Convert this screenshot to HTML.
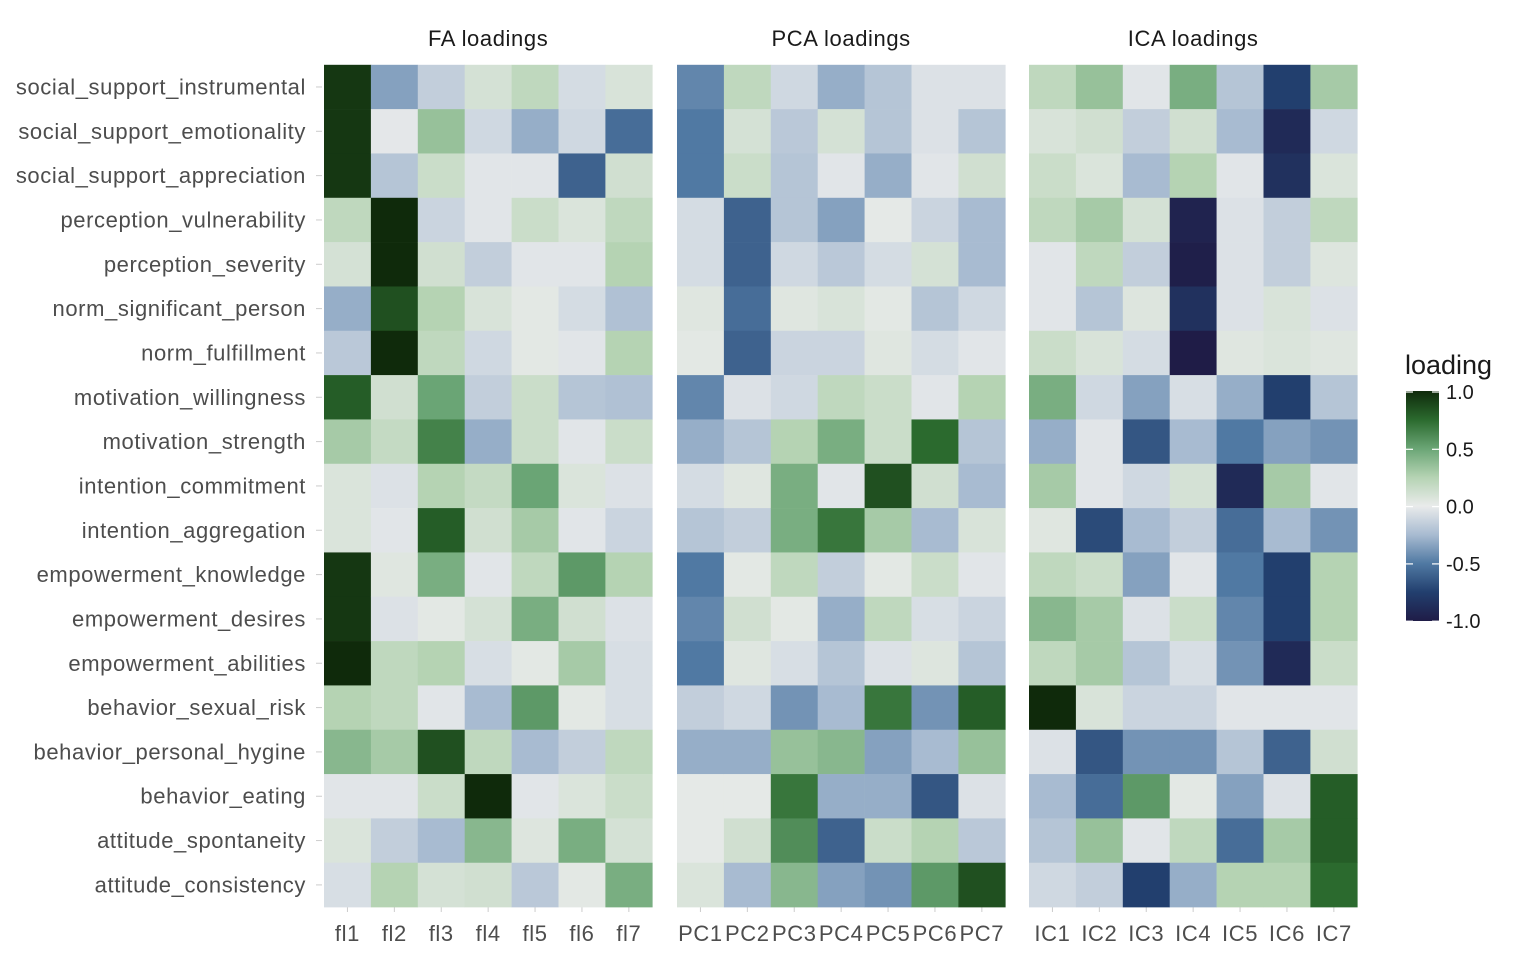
<!DOCTYPE html>
<html><head><meta charset="utf-8"><style>
body{margin:0;background:#fff;}
svg text{font-family:"Liberation Sans",sans-serif;}
</style></head><body>
<svg id="s" width="1536" height="960" xmlns="http://www.w3.org/2000/svg"></svg>
<script>
(function(){
const rows=["social_support_instrumental","social_support_emotionality","social_support_appreciation","perception_vulnerability","perception_severity","norm_significant_person","norm_fulfillment","motivation_willingness","motivation_strength","intention_commitment","intention_aggregation","empowerment_knowledge","empowerment_desires","empowerment_abilities","behavior_sexual_risk","behavior_personal_hygine","behavior_eating","attitude_spontaneity","attitude_consistency"];
const V=[
[[0.95,-0.35,-0.15,0.1,0.2,-0.08,0.08],[-0.45,0.2,-0.1,-0.3,-0.2,-0.05,-0.05],[0.2,0.35,-0.03,0.45,-0.2,-0.75,0.3]],
[[0.95,-0.02,0.35,-0.1,-0.3,-0.1,-0.55],[-0.5,0.1,-0.18,0.1,-0.2,-0.05,-0.2],[0.08,0.12,-0.15,0.12,-0.25,-0.9,-0.1]],
[[0.95,-0.2,0.15,-0.03,-0.03,-0.6,0.12],[-0.5,0.15,-0.2,-0.03,-0.3,-0.03,0.12],[0.15,0.07,-0.25,0.25,-0.03,-0.85,0.07]],
[[0.2,1.0,-0.12,-0.03,0.15,0.07,0.2],[-0.08,-0.6,-0.2,-0.35,0.02,-0.12,-0.25],[0.2,0.3,0.1,-0.95,-0.05,-0.15,0.2]],
[[0.1,1.0,0.12,-0.15,-0.03,-0.03,0.25],[-0.08,-0.6,-0.1,-0.18,-0.08,0.1,-0.25],[-0.03,0.2,-0.15,-0.98,-0.05,-0.15,0.06]],
[[-0.3,0.85,0.25,0.08,0.03,-0.08,-0.22],[0.05,-0.55,0.05,0.08,0.03,-0.2,-0.1],[-0.03,-0.2,0.06,-0.85,-0.05,0.08,-0.05]],
[[-0.18,1.0,0.2,-0.1,0.03,-0.03,0.25],[0.03,-0.6,-0.12,-0.12,0.05,-0.08,-0.03],[0.15,0.08,-0.08,-1.0,0.05,0.07,0.05]],
[[0.8,0.12,0.5,-0.15,0.15,-0.2,-0.22],[-0.45,-0.05,-0.1,0.2,0.15,-0.03,0.25],[0.45,-0.1,-0.35,-0.07,-0.3,-0.75,-0.2]],
[[0.3,0.18,0.65,-0.3,0.15,-0.03,0.15],[-0.3,-0.2,0.25,0.45,0.15,0.75,-0.2],[-0.3,-0.03,-0.65,-0.25,-0.5,-0.35,-0.4]],
[[0.07,-0.05,0.25,0.18,0.5,0.07,-0.05],[-0.08,0.05,0.45,-0.03,0.85,0.12,-0.25],[0.3,-0.03,-0.1,0.1,-0.9,0.3,-0.03]],
[[0.07,-0.03,0.8,0.12,0.3,-0.03,-0.12],[-0.2,-0.15,0.45,0.7,0.3,-0.25,0.08],[0.05,-0.7,-0.25,-0.15,-0.55,-0.25,-0.4]],
[[0.95,0.05,0.45,-0.03,0.2,0.55,0.25],[-0.5,0.03,0.2,-0.15,0.03,0.15,-0.03],[0.2,0.15,-0.35,-0.03,-0.5,-0.75,0.25]],
[[0.95,-0.05,0.03,0.1,0.45,0.12,-0.05],[-0.45,0.12,0.03,-0.3,0.2,-0.07,-0.12],[0.4,0.3,-0.05,0.15,-0.45,-0.75,0.25]],
[[1.0,0.2,0.25,-0.07,0.03,0.3,-0.07],[-0.5,0.05,-0.07,-0.2,-0.05,0.06,-0.2],[0.2,0.3,-0.2,-0.07,-0.4,-0.9,0.15]],
[[0.25,0.2,-0.03,-0.25,0.55,0.03,-0.07],[-0.15,-0.1,-0.4,-0.25,0.7,-0.4,0.8],[1.0,0.08,-0.12,-0.12,-0.03,-0.03,-0.03]],
[[0.4,0.3,0.85,0.2,-0.25,-0.15,0.2],[-0.3,-0.3,0.35,0.4,-0.35,-0.25,0.35],[-0.05,-0.65,-0.4,-0.4,-0.2,-0.6,0.12]],
[[-0.03,-0.03,0.15,1.0,-0.03,0.07,0.15],[0.02,0.02,0.7,-0.3,-0.3,-0.65,-0.05],[-0.25,-0.55,0.55,0.03,-0.35,-0.05,0.8]],
[[0.07,-0.15,-0.25,0.4,0.06,0.45,0.1],[0.02,0.12,0.6,-0.6,0.15,0.25,-0.18],[-0.2,0.35,-0.03,0.2,-0.55,0.3,0.8]],
[[-0.07,0.25,0.1,0.12,-0.18,0.03,0.45],[0.07,-0.25,0.4,-0.35,-0.4,0.55,0.85],[-0.1,-0.15,-0.75,-0.3,0.25,0.25,0.75]]];
const stops=[[-1,"1f1c47"],[-0.75,"223f6e"],[-0.5,"5079a3"],[-0.25,"a8bbd1"],[0,"e9ebeb"],[0.25,"b5d3b3"],[0.5,"6aa575"],[0.75,"2b6a2e"],[1,"0f2a0b"]];
function h(c){return [0,2,4].map(function(i){return parseInt(c.substr(i,2),16);});}
function col(v){v=Math.max(-1,Math.min(1,v));for(var i=0;i<stops.length-1;i++){var a=stops[i][0],b=stops[i+1][0];if(v<=b){var t=(v-a)/(b-a),A=h(stops[i][1]),B=h(stops[i+1][1]);return "rgb("+A.map(function(x,k){return Math.round(x+(B[k]-x)*t);}).join(",")+")";}}return "#0f2a0b";}
var o="";
var px=[324,677,1029],cw=46.9,T0=64.8,rh=44.33;
var F='font-size="22" letter-spacing="0.6"';
var titles=["FA loadings","PCA loadings","ICA loadings"];
var xl=[["fl1","fl2","fl3","fl4","fl5","fl6","fl7"],["PC1","PC2","PC3","PC4","PC5","PC6","PC7"],["IC1","IC2","IC3","IC4","IC5","IC6","IC7"]];
for(var p=0;p<3;p++){
 o+='<text x="'+(px[p]+cw*3.5)+'" y="46" '+F+' fill="#1a1a1a" text-anchor="middle">'+titles[p]+'</text>';
 for(var c=0;c<7;c++){
  var cx=px[p]+cw*(c+0.5);
  o+='<text x="'+cx+'" y="941" '+F+' fill="#4d4d4d" text-anchor="middle">'+xl[p][c]+'</text>';
  o+='<line x1="'+cx+'" x2="'+cx+'" y1="907" y2="912" stroke="#ccc" stroke-width="1"/>';
  for(var r=0;r<19;r++)o+='<rect x="'+(px[p]+cw*c).toFixed(2)+'" y="'+(T0+rh*r).toFixed(2)+'" width="'+(cw+0.3)+'" height="'+(rh+0.3)+'" fill="'+col(V[r][p][c])+'"/>';
 }
}
for(var r=0;r<19;r++){var y=T0+rh*(r+0.5);
 o+='<text x="306" y="'+(y+7.5)+'" '+F+' fill="#4d4d4d" text-anchor="end">'+rows[r]+'</text>';
 o+='<line x1="316" x2="322" y1="'+y+'" y2="'+y+'" stroke="#ccc"/>';}
o+='<defs><linearGradient id="g" x1="0" y1="1" x2="0" y2="0">'+stops.map(function(s){return '<stop offset="'+((s[0]+1)/2)+'" stop-color="#'+s[1]+'"/>';}).join("")+'</linearGradient></defs>';
o+='<text x="1405" y="374" font-size="27" fill="#1a1a1a">loading</text>';
o+='<rect x="1406" y="391" width="33" height="230" fill="url(#g)"/>';
var lv=["1.0","0.5","0.0","-0.5","-1.0"];
for(var i=0;i<5;i++){var yy=392+i*57.3;
 o+='<line x1="1406" x2="1413" y1="'+yy+'" y2="'+yy+'" stroke="#fff" stroke-width="1.2"/><line x1="1432" x2="1439" y1="'+yy+'" y2="'+yy+'" stroke="#fff" stroke-width="1.2"/>';
 o+='<text x="1446" y="'+(yy+7)+'" font-size="20" fill="#1a1a1a">'+lv[i]+'</text>';}
document.getElementById("s").innerHTML=o;
})();
</script>
</body></html>
